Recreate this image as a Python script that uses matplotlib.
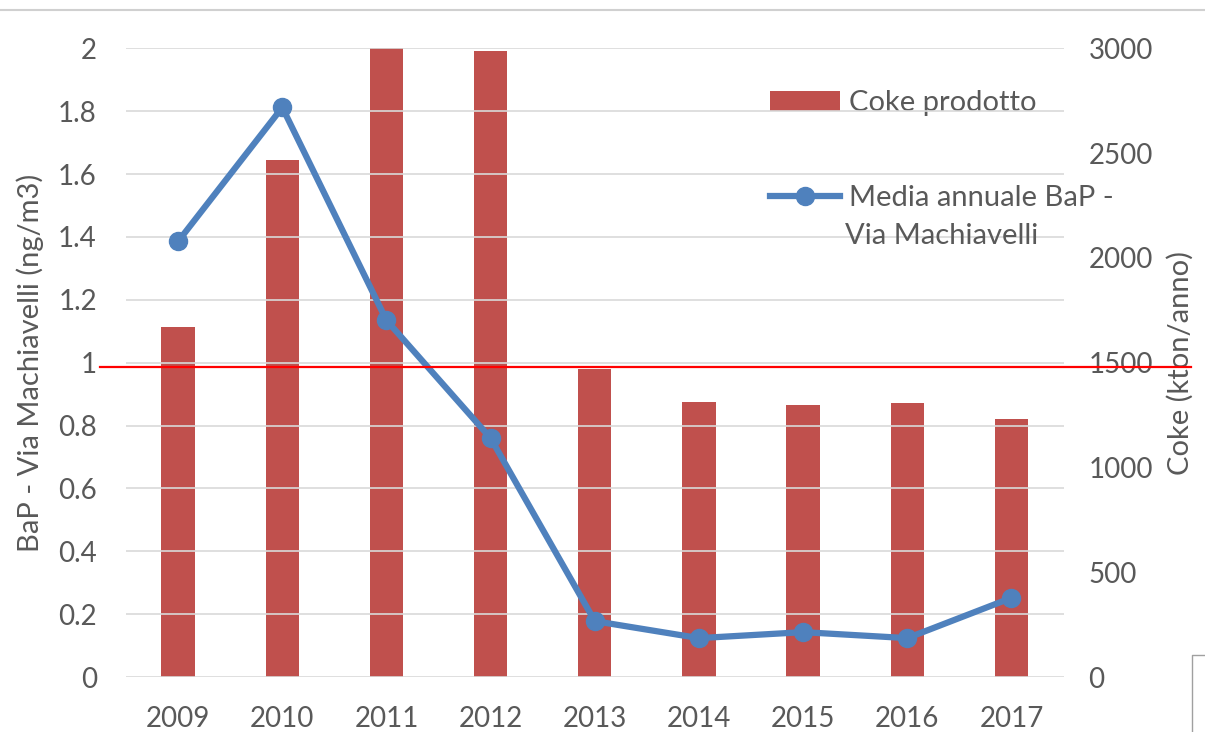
# -*- coding: utf-8 -*-
"""
BaP via Machiavelli et coke produit
"""

import matplotlib.pyplot as plt
from matplotlib.lines import Line2D

#%% Données
annees = ["2009", "2010", "2011", "2012", "2013", "2014", "2015", "2016", "2017"]
coke   = [1670, 2465, 3000, 2985, 1470, 1312, 1298, 1308, 1232]   # kton/anno
bap    = [1.386, 1.812, 1.135, 0.76, 0.178, 0.124, 0.143, 0.124, 0.252]   # ng/m3

gris = "#595959"
plt.rcParams['font.family'] = ['Lato', 'DejaVu Sans']

##############################################################################
#%% Figure
fig = plt.figure(figsize=(12.05, 7.32), dpi=100)
ax1 = plt.axes([0.1046, 0.075, 0.778, 0.859])
x = list(range(len(annees)))

# Axe de gauche : grille + courbe
plt.ylim(0, 2)
plt.yticks([i * 0.2 for i in range(11)], ["0", "0.2", "0.4", "0.6", "0.8", "1", "1.2", "1.4", "1.6", "1.8", "2"])
plt.xlim(-0.5, len(annees) - 0.5)
plt.xticks(x, annees)
plt.grid(axis="y", color="#d9d9d9", linewidth=1.2)
plt.tick_params(axis="y", length=0, colors=gris, labelsize=20, pad=21)
plt.tick_params(axis="x", length=0, colors=gris, labelsize=20, pad=21)
plt.ylabel("BaP - Via Machiavelli (ng/m3)", color=gris, fontsize=21, labelpad=10)
for s in ax1.spines.values():
    s.set_visible(False)
ax1.set_axisbelow(True)

# Axe de droite : barres
ax2 = plt.twinx()
plt.bar(x, coke, width=0.32, color="#C0504D", label="Coke prodotto", zorder=2)
plt.ylim(0, 3000)
plt.yticks(range(0, 3001, 500))
plt.tick_params(length=0, colors=gris, labelsize=20, pad=18)
plt.ylabel("Coke (kton/anno)", color=gris, fontsize=21, labelpad=10)
for s in ax2.spines.values():
    s.set_visible(False)

# Courbe au-dessus des barres
ax1.set_zorder(ax2.get_zorder() + 1)
ax1.patch.set_visible(False)
plt.sca(ax1)
plt.plot(x, bap, color="#4F81BD", linewidth=4.5, marker="o", markersize=13,
         label="Media annuale BaP -", zorder=3)

# Légendes
leg1 = ax2.legend(loc="center left", bbox_to_anchor=(0.639, 0.859), bbox_transform=fig.transFigure,
                  frameon=False, fontsize=21, handlelength=2.4, handleheight=0.65, labelcolor=gris,
                  handletextpad=0.3, borderpad=0, borderaxespad=0)
leg2 = ax1.legend(loc="center left", bbox_to_anchor=(0.639, 0.7295), bbox_transform=fig.transFigure,
                  frameon=False, fontsize=21, handlelength=2.4, labelcolor=gris,
                  handletextpad=0.3, borderpad=0, borderaxespad=0)
fig.text(0.701, 0.677, "Via Machiavelli", color=gris, fontsize=21, va="center")

# Ligne rouge (seuil) et cadres
fig.add_artist(Line2D([0.083, 0.988], [0.4986, 0.4986], color="red", linewidth=1.6))
fig.add_artist(Line2D([0, 1], [0.986, 0.986], color="#d0d0d0", linewidth=1.5))
fig.add_artist(Line2D([0.989, 0.989, 1], [0, 0.105, 0.105], color="#a0a0a0", linewidth=1))

plt.savefig("out.png", dpi=100)
